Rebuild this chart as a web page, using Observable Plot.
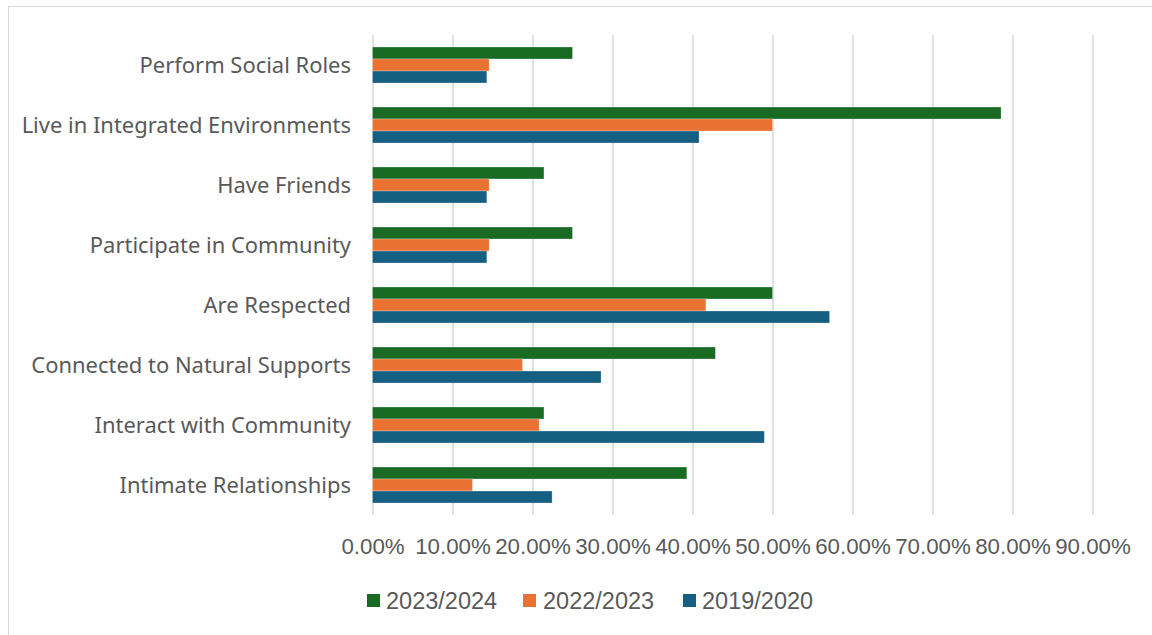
<!DOCTYPE html>
<html>
<head>
<meta charset="utf-8">
<script src="https://cdn.jsdelivr.net/npm/d3@7"></script>
<script src="https://cdn.jsdelivr.net/npm/@observablehq/plot@0.6"></script>
<style>
  html, body { margin: 0; padding: 0; background: #fff; }
  body { width: 1152px; height: 635px; position: relative; overflow: hidden; }
  #frame { position: absolute; left: 8px; top: 6px; width: 1200px; height: 700px;
           border-left: 1.5px solid #d9d9d9; border-top: 1.5px solid #d9d9d9; }
  #chart { position: absolute; left: 0; top: 0; }
  #legend { position: absolute; top: 587px; left: 0; width: 1152px; height: 28px;
            font-family: "Liberation Sans", Arial, sans-serif; font-size: 23.5px; color: #595959; }
  .sw { position: absolute; top: 7px; width: 13px; height: 13px; }
  .lt { position: absolute; top: 0; line-height: 28px; }
</style>
</head>
<body>
<div id="frame"></div>
<div id="chart"></div>
<div id="legend"></div>
<script>
const categories = [
  "Perform Social Roles",
  "Live in Integrated Environments",
  "Have Friends",
  "Participate in Community",
  "Are Respected",
  "Connected to Natural Supports",
  "Interact with Community",
  "Intimate Relationships"
];
const series = ["2023/2024", "2022/2023", "2019/2020"];
const values2023_2024 = [25.00, 78.57, 21.43, 25.00, 50.00, 42.86, 21.43, 39.29];
const values2022_2023 = [14.58, 50.00, 14.58, 14.58, 41.67, 18.75, 20.83, 12.50];
const values2019_2020 = [14.29, 40.82, 14.29, 14.29, 57.14, 28.57, 48.98, 22.45];
const colors = ["#196B24", "#E97132", "#156082"];
const xTicks = [0, 10, 20, 30, 40, 50, 60, 70, 80, 90];

const seriesValues = [values2023_2024, values2022_2023, values2019_2020];
const data = [];
categories.forEach((c, i) => {
  series.forEach((s, j) => {
    data.push({category: c, series: s, value: seriesValues[j][i] / 100});
  });
});

const textColor = "#595959";
const plot = Plot.plot({
  width: 1152,
  height: 560,
  marginLeft: 372.5,
  marginRight: 59.5,
  marginTop: 35,
  marginBottom: 45,
  style: {background: "transparent"},
  x: {domain: [0, 0.9], ticks: xTicks.map(d => d / 100), tickFormat: d3.format(".2%")},
  fy: {domain: categories, padding: 0},
  y: {domain: series, paddingInner: 0, paddingOuter: 0.9, axis: null},
  color: {domain: series, range: colors},
  marks: [
    Plot.gridX(xTicks.map(d => d / 100), {stroke: "#d9d9d9", strokeOpacity: 1, strokeWidth: 1.6}),
    Plot.barX(data, {
      fy: "category", y: "series", x: "value", fill: "series",
      stroke: "white", strokeOpacity: 0.35, strokeWidth: 0.8
    }),
    Plot.axisFy({
      anchor: "left", tickSize: 0, tickPadding: 22, label: null,
      fontSize: 21.95, fill: textColor,
      fontFamily: "'Noto Sans', 'Open Sans', sans-serif"
    }),
    Plot.axisX(xTicks.map(d => d / 100), {
      anchor: "bottom", tickSize: 0, tickPadding: 23, label: null,
      tickFormat: d3.format(".2%"),
      fontSize: 22.3, fill: textColor,
      fontFamily: "'Liberation Sans', Arial, sans-serif"
    })
  ]
});
document.getElementById("chart").appendChild(plot);

const legend = document.getElementById("legend");
const swatchX = [367, 523, 683];
const textX = [386, 543, 702];
series.forEach((s, j) => {
  const sw = document.createElement("div");
  sw.className = "sw";
  sw.style.left = swatchX[j] + "px";
  sw.style.background = colors[j];
  const t = document.createElement("div");
  t.className = "lt";
  t.style.left = textX[j] + "px";
  t.textContent = s;
  legend.appendChild(sw);
  legend.appendChild(t);
});
</script>
</body>
</html>
